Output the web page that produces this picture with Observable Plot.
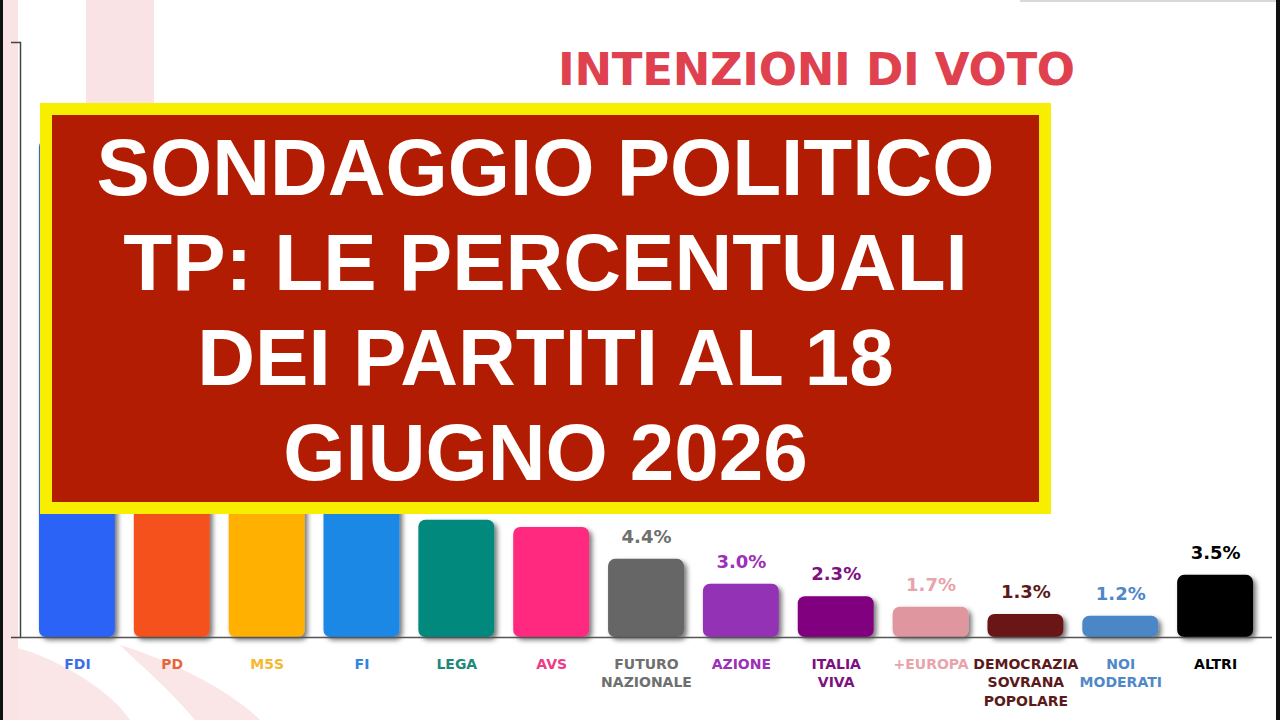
<!DOCTYPE html>
<html>
<head>
<meta charset="utf-8">
<script src="https://cdn.jsdelivr.net/npm/d3@7"></script>
<script src="https://cdn.jsdelivr.net/npm/@observablehq/plot@0.6"></script>
<style>
  html, body { margin: 0; padding: 0; background: #fff; }
  #wrap { position: relative; width: 1280px; height: 720px; overflow: hidden; background: #fff; }
  #deco { position: absolute; left: 0; top: 0; }
  #chart { position: absolute; left: 0; top: 0; }
  #title { position: absolute; left: 558px; top: 42px; font-family: "DejaVu Sans", sans-serif; font-weight: 700;
           font-size: 45px; line-height: 56px; color: #e0414f; white-space: nowrap; letter-spacing: -0.3px; }
  #overlay { position: absolute; left: 40px; top: 103px; width: 1011px; height: 411px; box-sizing: border-box;
             border: 12px solid #f7ee00; background: #b11c02; color: #fff; text-align: center;
             font-family: "Liberation Sans", Arial, sans-serif; font-weight: 700; font-size: 80px; line-height: 95px;
             padding-top: 5px; }
</style>
</head>
<body>
<div id="wrap">
  <svg id="deco" width="1280" height="720">
    <rect x="0" y="0" width="3" height="720" fill="#111"/>
    <rect x="3" y="0" width="15" height="720" fill="#fae3e4"/>
    <rect x="1276" y="0" width="4" height="720" fill="#111"/>
    <rect x="1020" y="0" width="256" height="2" fill="#d8d8d8"/>
    <rect x="86" y="0" width="68" height="110" fill="#fae3e4"/>
    <path d="M18,648 C60,660 110,690 130,720 L18,720 Z" fill="#fbe6e7"/>
    <path d="M120,645 C170,660 230,690 260,720 L195,720 C170,690 140,665 120,645 Z" fill="#fbe6e7"/>
  </svg>
  <div id="chart"></div>
  <div id="title">INTENZIONI DI VOTO</div>
  <div id="overlay">SONDAGGIO POLITICO<br>TP: LE PERCENTUALI<br>DEI PARTITI AL 18<br>GIUGNO 2026</div>
</div>
<script>
const parties = ["FDI", "PD", "M5S", "FI", "LEGA", "AVS", "FUTURO NAZIONALE", "AZIONE", "ITALIA VIVA", "+EUROPA", "DEMOCRAZIA SOVRANA POPOLARE", "NOI MODERATI", "ALTRI"];
const tickLabels = ["FDI", "PD", "M5S", "FI", "LEGA", "AVS", "FUTURO\nNAZIONALE", "AZIONE", "ITALIA\nVIVA", "+EUROPA", "DEMOCRAZIA\nSOVRANA\nPOPOLARE", "NOI\nMODERATI", "ALTRI"];
const values = [28.0, 22.0, 11.8, 8.0, 6.6, 6.2, 4.4, 3.0, 2.3, 1.7, 1.3, 1.2, 3.5];
// value labels of the first six bars are covered by the banner in the picture
const labelVisible = [false, false, false, false, false, false, true, true, true, true, true, true, true];
const barColors = ["#2b63f6", "#f4511e", "#ffb000", "#1e88e5", "#00897b", "#ff2a7f", "#666666", "#9431b6", "#800080", "#df969e", "#6a1616", "#4b86c6", "#000000"];
const labelColors = ["#3d6ee8", "#e8643c", "#f7b731", "#2f86e0", "#1e8a7c", "#f03a85", "#6f6f6f", "#9c30b8", "#7d1180", "#e8a3ab", "#5b1a1a", "#4f88c8", "#000000"];

const data = parties.map((p, i) => ({party: p, value: values[i], color: barColors[i], lcolor: labelColors[i], tick: tickLabels[i], shown: labelVisible[i]}));

const plot = Plot.plot({
  width: 1280,
  height: 720,
  marginLeft: 20,
  marginRight: 8,
  marginTop: 42,
  marginBottom: 83,
  style: {background: "transparent", fontFamily: "DejaVu Sans, sans-serif"},
  x: {domain: parties, paddingInner: 0.2, paddingOuter: 0.2, round: false, axis: null},
  y: {domain: [0, 33.5], axis: null},
  marks: [
    Plot.frame({anchor: "left", stroke: "#444", strokeWidth: 1.5}),
    Plot.axisY({ticks: [0, 33.5], tickSize: 9, tickFormat: () => "", label: null, stroke: "#444", strokeWidth: 1.5}),
    Plot.barY(data, {x: "party", y: "value", fill: "color", rx: 7}),
    Plot.ruleY([0], {stroke: "#555", strokeWidth: 1.5}),
    Plot.text(data, {filter: "shown", x: "party", y: "value", text: d => d.value.toFixed(1) + "%", fill: "lcolor", dy: -22,
                     fontSize: 18, fontWeight: "bold"}),
    Plot.text(data, {x: "party", text: "tick", frameAnchor: "bottom", lineAnchor: "top", dy: 18,
                     fill: "lcolor", fontSize: 14, fontWeight: "bold", lineHeight: 1.32})
  ]
});

const svg = d3.select(plot);
const defs = svg.insert("defs", ":first-child");
const f = defs.append("filter").attr("id", "sh").attr("x", "-20%").attr("y", "-20%").attr("width", "150%").attr("height", "150%");
f.append("feDropShadow").attr("dx", 3).attr("dy", 3).attr("stdDeviation", 2.5).attr("flood-color", "#000").attr("flood-opacity", 0.55);
svg.selectAll("g[aria-label='bar'] rect").attr("filter", "url(#sh)");

document.getElementById("chart").appendChild(plot);
</script>
</body>
</html>
